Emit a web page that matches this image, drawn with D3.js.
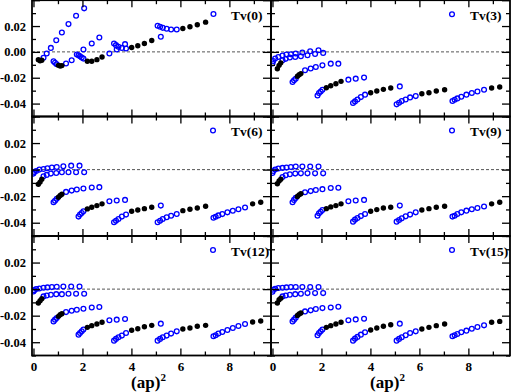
<!DOCTYPE html>
<html><head><meta charset="utf-8">
<script src="https://cdn.jsdelivr.net/npm/d3@7"></script>
<style>body{margin:0;background:#fff}svg{display:block}</style>
</head><body>
<svg id="c" width="512" height="392"></svg>
<script>
// ---- momentum branches: (ap)^2 values ----
const xA = [0, 0.03, 0.11, 0.24, 0.41, 0.57, 0.75, 0.95, 1.22, 1.54, 1.88];
const xB = [0.2, 0.27, 0.34, 0.41, 0.54, 0.71, 0.93, 1.16, 1.43, 1.74, 2.07];
const xC = [0.82, 0.88, 0.95, 1.02, 1.09, 1.16, 1.33, 1.56, 1.77, 2.04, 2.38, 2.69];
const xD = [1.84, 1.9, 1.97, 2.04, 2.2, 2.38, 2.59, 2.8, 3.1, 3.4, 3.74];
const xE = [3.29, 3.37, 3.47, 3.61, 3.78, 4.01, 4.26, 4.53, 4.83, 5.2];
const xF = [5.07, 5.17, 5.28, 5.44, 5.62, 5.85, 6.1, 6.39, 6.69, 7.03];
const xG = [7.35, 7.44, 7.55, 7.71, 7.92, 8.14, 8.37, 8.64, 8.95, 9.28];
// indices drawn as filled black dots
const blackA = [], blackB = [0, 1, 2], blackC = [3, 4, 5], blackD = [4, 5, 6, 7];
const blackE = [5, 6, 7, 8], blackF = [6, 7, 8, 9], blackG = [8, 9];

// ---- Tv(0) ----
const tv0A = [];
const tv0B = [-0.006, -0.0068, -0.0065, -0.0045, -0.0013, 0.0031, 0.009, 0.015, 0.0215, 0.028, 0.0337];
const tv0C = [-0.0072, -0.0085, -0.0096, -0.0104, -0.0109, -0.0106, -0.009, -0.0065, -0.002, 0.0018, 0.0065, 0.0111];
const tv0D = [-0.0026, -0.0034, -0.0044, -0.0052, -0.0073, -0.0073, -0.006, -0.0039, -0.0013, 0.0018, 0.006];
const tv0E = [0.0065, 0.0052, 0.0039, 0.0031, 0.0026, 0.0034, 0.0047, 0.0065, 0.0088, 0.0117];
const tv0F = [0.0202, 0.0194, 0.0186, 0.0179, 0.0173, 0.0173, 0.0181, 0.0194, 0.021, 0.023];
const tv0G = [0.0293];
// ---- Tv(3) ----
const tv3A = [-0.009, -0.007, -0.0052, -0.0039, -0.0028, -0.0021, -0.0018, -0.0013, -0.0005, 0.0005, 0.0013];
const tv3B = [-0.013, -0.0104, -0.0085, -0.0065, -0.0054, -0.0044, -0.0039, -0.0034, -0.0026, -0.0016, -0.0008];
const tv3C = [-0.0233, -0.022, -0.0208, -0.0189, -0.0176, -0.0168, -0.0142, -0.0129, -0.0117, -0.0104, -0.0091, -0.0091];
const tv3D = [-0.0337, -0.0318, -0.0306, -0.0293, -0.0277, -0.0262, -0.0246, -0.0228, -0.0215, -0.0207, -0.0199];
const tv3E = [-0.0396, -0.0383, -0.0368, -0.035, -0.0331, -0.0316, -0.0303, -0.029, -0.028, -0.0267];
const tv3F = [-0.0406, -0.0394, -0.0381, -0.0368, -0.0352, -0.0342, -0.0324, -0.0316, -0.0303, -0.0293];
const tv3G = [-0.038, -0.037, -0.036, -0.0347, -0.0331, -0.0318, -0.0306, -0.0293, -0.028, -0.0272];
// ---- Tv(6) ----
const tv6A = [-0.003, -0.0018, -0.001, 0, 0.0005, 0.001, 0.0015, 0.002, 0.0025, 0.003, 0.003];
const tv6B = [-0.011, -0.0094, -0.0073, -0.005, -0.004, -0.003, -0.0025, -0.002, -0.002, -0.002, -0.002];
const tv6C = [-0.0246, -0.0235, -0.022, -0.0208, -0.0195, -0.0185, -0.0168, -0.0158, -0.015, -0.0142, -0.0135, -0.0132];
const tv6D = [-0.0354, -0.0339, -0.0327, -0.0314, -0.0296, -0.0284, -0.0271, -0.0258, -0.0238, -0.0233, -0.0228];
const tv6E = [-0.0397, -0.0385, -0.0372, -0.0354, -0.0339, -0.0314, -0.0304, -0.0294, -0.0284, -0.0271];
const tv6F = [-0.0397, -0.0385, -0.0372, -0.0359, -0.0347, -0.0334, -0.0309, -0.0299, -0.0289, -0.0276];
const tv6G = [-0.0362, -0.0355, -0.0345, -0.0335, -0.0322, -0.031, -0.0298, -0.0285, -0.0258, -0.0246];
// ---- Tv(9) ----
const tv9A = [-0.0025, -0.001, 0, 0.0008, 0.0013, 0.0015, 0.002, 0.0023, 0.0023, 0.0023, 0.0023];
const tv9B = [-0.0106, -0.0086, -0.0073, -0.0056, -0.0043, -0.0035, -0.003, -0.0028, -0.0028, -0.0028, -0.0028];
const tv9C = [-0.0246, -0.0228, -0.0213, -0.0203, -0.019, -0.0182, -0.017, -0.0162, -0.0154, -0.0147, -0.0139, -0.0137];
const tv9D = [-0.0347, -0.0329, -0.0317, -0.0304, -0.0294, -0.0281, -0.0271, -0.0258, -0.0238, -0.0233, -0.0228];
const tv9E = [-0.0392, -0.0377, -0.0365, -0.035, -0.0334, -0.0314, -0.0301, -0.0289, -0.0284, -0.0271];
const tv9F = [-0.0392, -0.038, -0.0367, -0.0352, -0.0339, -0.0322, -0.0304, -0.0294, -0.0284, -0.0276];
const tv9G = [-0.0354, -0.0347, -0.0334, -0.0322, -0.0309, -0.0299, -0.0289, -0.0278, -0.0258, -0.0246];
// ---- Tv(12) ----
const tv12A = [-0.0018, -0.0008, 0, 0.0005, 0.001, 0.0013, 0.0015, 0.0018, 0.002, 0.002, 0.002];
const tv12B = [-0.0105, -0.0088, -0.0073, -0.0055, -0.0048, -0.0043, -0.0038, -0.0038, -0.0035, -0.0035, -0.0035];
const tv12C = [-0.0243, -0.023, -0.0218, -0.0205, -0.0193, -0.0185, -0.0173, -0.0163, -0.0155, -0.0148, -0.0138, -0.0135];
const tv12D = [-0.0343, -0.033, -0.0318, -0.0305, -0.0288, -0.0275, -0.0263, -0.025, -0.0235, -0.023, -0.0225];
const tv12E = [-0.0388, -0.0375, -0.0363, -0.035, -0.033, -0.031, -0.0298, -0.0283, -0.0273, -0.026];
const tv12F = [-0.0388, -0.0375, -0.0363, -0.035, -0.0335, -0.0318, -0.03, -0.0293, -0.028, -0.0273];
const tv12G = [-0.0355, -0.0348, -0.0335, -0.0323, -0.0308, -0.0293, -0.0278, -0.0263, -0.0248, -0.024];
// ---- Tv(15) ----
const tv15A = [-0.002, -0.0005, 0.0003, 0.0008, 0.001, 0.0013, 0.0015, 0.0015, 0.0015, 0.0015, 0.0015];
const tv15B = [-0.0105, -0.008, -0.0068, -0.0055, -0.0048, -0.0043, -0.0038, -0.0035, -0.003, -0.003, -0.003];
const tv15C = [-0.0243, -0.023, -0.0215, -0.0198, -0.0188, -0.018, -0.0168, -0.016, -0.015, -0.0143, -0.0138, -0.0133];
const tv15D = [-0.0348, -0.033, -0.0318, -0.0305, -0.0288, -0.0275, -0.0263, -0.025, -0.0235, -0.0228, -0.0223];
const tv15E = [-0.0388, -0.0373, -0.036, -0.0343, -0.0325, -0.0308, -0.0293, -0.028, -0.0268, -0.026];
const tv15F = [-0.0388, -0.0375, -0.0363, -0.0348, -0.033, -0.0318, -0.03, -0.0288, -0.0275, -0.0263];
const tv15G = [-0.0355, -0.0348, -0.0338, -0.0325, -0.0313, -0.0298, -0.0285, -0.0273, -0.025, -0.0243];

const panelLabels = ["Tv(0)", "Tv(3)", "Tv(6)", "Tv(9)", "Tv(12)", "Tv(15)"];
const xMajor = [0, 2, 4, 6, 8], xMinor = [1, 3, 5, 7, 9];
const yMajor = [-0.04, -0.02, 0, 0.02, 0.04], yMinor = [-0.05, -0.03, -0.01, 0.01, 0.03];
const yLabVals = [-0.04, -0.02, 0, 0.02];
const xDomain = [-0.06, 9.7], yDomain = [-0.05, 0.04];

const branchX = [xA, xB, xC, xD, xE, xF, xG];
const branchBlack = [blackA, blackB, blackC, blackD, blackE, blackF, blackG];
const panelY = [
  [tv0A, tv0B, tv0C, tv0D, tv0E, tv0F, tv0G],
  [tv3A, tv3B, tv3C, tv3D, tv3E, tv3F, tv3G],
  [tv6A, tv6B, tv6C, tv6D, tv6E, tv6F, tv6G],
  [tv9A, tv9B, tv9C, tv9D, tv9E, tv9F, tv9G],
  [tv12A, tv12B, tv12C, tv12D, tv12E, tv12F, tv12G],
  [tv15A, tv15B, tv15C, tv15D, tv15E, tv15F, tv15G]
];

const cols = [[32, 271], [271, 510]];
const rows = [[0.2, 116.5], [116.5, 236], [236, 355.5]];
const FONT = "'Liberation Serif','Times New Roman',serif";
const svg = d3.select("#c");
const fmt = v => d3.format(".2f")(v).replace("\u2212", "-");

panelLabels.forEach((lab, p) => {
  const c = p % 2, r = Math.floor(p / 2);
  const [x0, x1] = cols[c], [y0, y1] = rows[r];
  const x = d3.scaleLinear().domain(xDomain).range([x0, x1]);
  const y = d3.scaleLinear().domain(yDomain).range([y1, y0]);
  const g = svg.append("g");
  const cid = "clip" + p;
  svg.append("clipPath").attr("id", cid).append("rect")
    .attr("x", x0).attr("y", y0).attr("width", x1 - x0).attr("height", y1 - y0);

  // zero line
  g.append("line").attr("x1", x0).attr("x2", x1).attr("y1", y(0)).attr("y2", y(0))
    .attr("stroke", "#555").attr("stroke-width", 1).attr("stroke-dasharray", "3,2");

  // data
  const dg = g.append("g").attr("clip-path", `url(#${cid})`);
  const blue = [], black = [];
  panelY[p].forEach((ys, b) => {
    const bs = new Set(branchBlack[b]);
    ys.forEach((v, i) => {
      const d = {x: branchX[b][i], y: v};
      (bs.has(i) ? black : blue).push(d);
    });
  });
  dg.selectAll("circle.b").data(blue).join("circle").attr("class", "b")
    .attr("cx", d => x(d.x)).attr("cy", d => y(d.y)).attr("r", 2.4)
    .attr("fill", "none").attr("stroke", "#0000ff").attr("stroke-width", 1.3);
  dg.selectAll("circle.k").data(black).join("circle").attr("class", "k")
    .attr("cx", d => x(d.x)).attr("cy", d => y(d.y)).attr("r", 2.7)
    .attr("fill", "#000");

  // axes (ticks inward)
  const styleAx = sel => { sel.select(".domain").remove();
    sel.selectAll("line").attr("stroke", "#000").attr("stroke-width", 1.3);
    sel.selectAll("text").attr("font-family", FONT).attr("font-weight", "bold").attr("font-size", 13).attr("fill", "#000"); };
  const bottomLabels = r === 2;
  g.append("g").attr("transform", `translate(0,${y1})`)
    .call(d3.axisBottom(x).tickValues(xMajor).tickSize(-7).tickPadding(6.5)
      .tickFormat(bottomLabels ? d3.format("d") : () => "")).call(styleAx);
  g.append("g").attr("transform", `translate(0,${y1})`)
    .call(d3.axisBottom(x).tickValues(xMinor).tickSize(-4).tickFormat(() => "")).call(styleAx);
  g.append("g").attr("transform", `translate(0,${y0})`)
    .call(d3.axisTop(x).tickValues(xMajor).tickSize(-7).tickFormat(() => "")).call(styleAx);
  g.append("g").attr("transform", `translate(0,${y0})`)
    .call(d3.axisTop(x).tickValues(xMinor).tickSize(-4).tickFormat(() => "")).call(styleAx);
  const yl = g.append("g").attr("transform", `translate(${x0},0)`)
    .call(d3.axisLeft(y).tickValues(yMajor).tickSize(-8).tickPadding(6)
      .tickFormat(v => (c === 0 && yLabVals.some(t => Math.abs(t - v) < 1e-9)) ? fmt(v) : "")).call(styleAx);
  yl.selectAll("text").attr("font-size", 12.5);
  g.append("g").attr("transform", `translate(${x0},0)`)
    .call(d3.axisLeft(y).tickValues(yMinor).tickSize(-4).tickFormat(() => "")).call(styleAx);
  g.append("g").attr("transform", `translate(${x1},0)`)
    .call(d3.axisRight(y).tickValues(yMajor).tickSize(-8).tickFormat(() => "")).call(styleAx);
  g.append("g").attr("transform", `translate(${x1},0)`)
    .call(d3.axisRight(y).tickValues(yMinor).tickSize(-4).tickFormat(() => "")).call(styleAx);

  // frame
  g.append("rect").attr("x", x0).attr("y", y0).attr("width", x1 - x0).attr("height", y1 - y0)
    .attr("fill", "none").attr("stroke", "#000").attr("stroke-width", 1.8);

  // legend
  if (p !== 0) {
    g.append("circle").attr("cx", x1 - 58).attr("cy", y0 + 14).attr("r", 2.4)
      .attr("fill", "none").attr("stroke", "#0000ff").attr("stroke-width", 1.3);
  }
  g.append("text").attr("x", x1 - 40).attr("y", y0 + 19.5).text(lab)
    .attr("font-family", FONT).attr("font-weight", "bold").attr("font-size", 13.5).attr("fill", "#000");

  // x-axis title
  if (r === 2) {
    const t = g.append("text").attr("x", (x0 + x1) / 2 - 3).attr("y", 388)
      .attr("text-anchor", "middle").attr("font-family", FONT).attr("font-weight", "bold")
      .attr("font-size", 17).attr("fill", "#000");
    t.append("tspan").text("(ap)");
    t.append("tspan").attr("font-size", 11).attr("dy", -7).text("2");
  }
});
</script>
</body></html>
